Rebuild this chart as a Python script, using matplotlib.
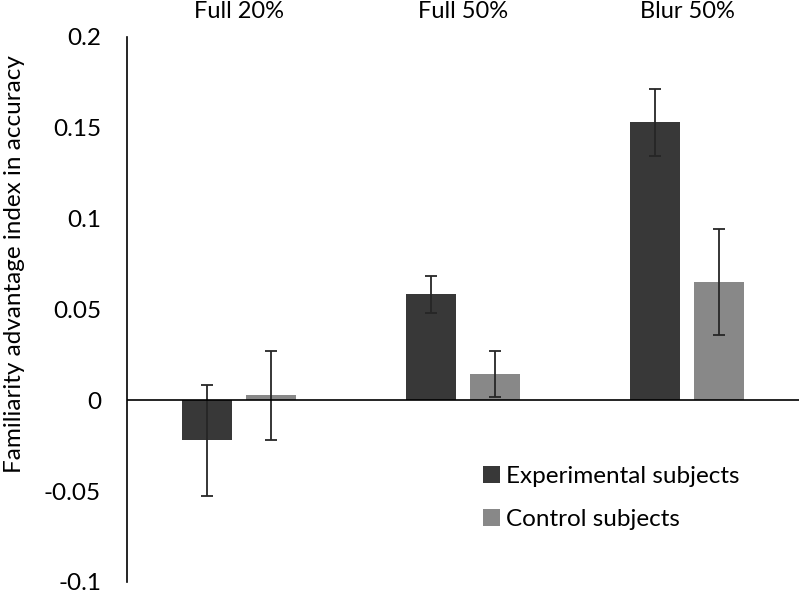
import matplotlib
matplotlib.use("Agg")
import matplotlib.pyplot as plt
import matplotlib.transforms as mtransforms
import numpy as np

plt.rcParams['font.family'] = ['Lato', 'DejaVu Sans']

conditions = ["Full 20%", "Full 50%", "Blur 50%"]
experimental = [-0.022, 0.0583, 0.153]
experimental_err = [0.0306, 0.0102, 0.0186]
control = [0.0028, 0.0143, 0.0653]
control_err = [0.0245, 0.0126, 0.0292]
y_ticks = [-0.1, -0.05, 0, 0.05, 0.1, 0.15, 0.2]
y_tick_labels = ["-0.1", "-0.05", "0", "0.05", "0.1", "0.15", "0.2"]

fig = plt.figure(figsize=(7.99, 5.9), dpi=100)
ax = fig.add_axes([0.1586, 0.0136, 0.8418, 0.9237])

x = np.arange(len(conditions))
width = 0.225
offset = 0.1426
err_style = dict(ecolor='#262626', elinewidth=1.3, capsize=4, capthick=1.3)

ax.bar(x - offset, experimental, width, color='#383838', label="Experimental subjects",
       yerr=experimental_err, error_kw=err_style, zorder=2)
ax.bar(x + offset, control, width, color='#888888', label="Control subjects",
       yerr=control_err, error_kw=err_style, zorder=2)

ax.axhline(0, color='black', linewidth=1.2, zorder=3)

ax.set_xlim(-0.5, 2.5)
ax.set_ylim(-0.1, 0.2)
ax.set_yticks(y_ticks)
ax.set_yticklabels(y_tick_labels, fontsize=17.5)
ax.tick_params(axis='y', length=0, pad=18.5)
ax.set_xticks([])
for side in ['top', 'right', 'bottom']:
    ax.spines[side].set_visible(False)
ax.spines['left'].set_linewidth(1.2)

fig.text(15 / 799, 1 - 264 / 590, "Familiarity advantage index in accuracy",
         rotation=90, ha='center', va='center', fontsize=17.5)

# condition labels across the top
trans = mtransforms.blended_transform_factory(ax.transData, fig.transFigure)
for i, name in enumerate(conditions):
    ax.text(i, 1 - 18 / 590, name, transform=trans, ha='center', va='baseline', fontsize=17)

ax.legend(loc='upper left', bbox_to_anchor=(0.577, 0.2465), bbox_transform=fig.transFigure,
          frameon=False, fontsize=17.5, handlelength=0.7, handleheight=0.7,
          handletextpad=0.25, labelspacing=0.9)

fig.savefig("out.png", dpi=100)
